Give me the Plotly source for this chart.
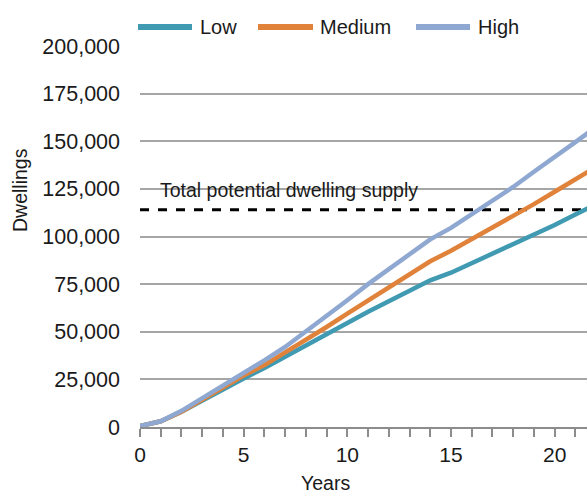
import plotly.graph_objects as go

years = list(range(0, 23))
low = [500, 3000, 8000, 14000, 20000, 25500, 31000, 37000, 42500, 48500, 55000,
       60500, 66000, 71500, 77000, 81000, 86000, 91000, 96000, 100500, 106000, 111500, 117000]
medium = [500, 3000, 8000, 14500, 21000, 27000, 32500, 39000, 45500, 52500, 59500,
          66500, 73500, 80500, 87000, 92500, 98500, 104500, 110500, 117000, 123500, 130000, 136500]
high = [500, 3000, 8500, 15000, 22000, 28500, 35000, 42000, 50000, 58000, 66500,
        75000, 83000, 91000, 98500, 104500, 111500, 119000, 126000, 134000, 141500, 149500, 157500]
supply = 114000
supply_label = "Total potential dwelling supply"
y_ticks = [0, 25000, 50000, 75000, 100000, 125000, 150000, 175000, 200000]
series_names = ["Low", "Medium", "High"]
series_colors = ["#3F9AB2", "#E0823A", "#8FA8D1"]

FONT = "Liberation Sans, Arial, sans-serif"
TXT = "#1a1a1a"

W, H = 587, 494
ML, MT, MB, MR = 140, 46, 67, 0
PW = W - ML - MR
PH = H - MT - MB

def px_x(fx):
    return (fx - ML) / PW

fig = go.Figure()
fig.add_trace(go.Scatter(x=[years[0], years[-1]], y=[supply, supply], mode="lines",
                         line=dict(color="black", width=3, dash="dash"),
                         showlegend=False, hoverinfo="skip"))
for name, vals, col in zip(series_names, [low, medium, high], series_colors):
    fig.add_trace(go.Scatter(x=years, y=vals, mode="lines", name=name, showlegend=False,
                             line=dict(color=col, width=4.5)))

# manual legend (long symbols as in reference)
leg_y = 1 + (MT - 27) / PH
leg_items = [(138, 192, 198), (258, 313, 318), (416, 470, 476)]
for (x0, x1, tx), name, col in zip(leg_items, series_names, series_colors):
    fig.add_shape(type="line", xref="paper", yref="paper", x0=px_x(x0), x1=px_x(x1),
                  y0=leg_y, y1=leg_y, line=dict(color=col, width=6))
    fig.add_annotation(x=px_x(tx), y=leg_y, xref="paper", yref="paper", text=name,
                       showarrow=False, xanchor="left", yanchor="middle",
                       font=dict(size=20, color=TXT, family=FONT))

fig.add_annotation(x=0.85, y=supply, xref="x", yref="y", text=supply_label, showarrow=False,
                   xanchor="left", yanchor="bottom", yshift=7,
                   font=dict(size=19.5, color=TXT, family=FONT))
fig.add_annotation(x=0, y=0.622, xref="paper", yref="paper", text="Dwellings", showarrow=False,
                   textangle=-90, xanchor="center", yanchor="middle", xshift=-120,
                   font=dict(size=19.5, color=TXT, family=FONT))
fig.add_annotation(x=px_x(325), y=0, xref="paper", yref="paper", text="Years", showarrow=False,
                   xanchor="center", yanchor="middle", yshift=-56,
                   font=dict(size=19.5, color=TXT, family=FONT))

fig.update_layout(
    width=W, height=H,
    margin=dict(l=ML, r=MR, t=MT, b=MB),
    plot_bgcolor="white", paper_bgcolor="white",
    font=dict(family=FONT, size=20, color=TXT),
    showlegend=False,
    xaxis=dict(range=[0, 21.56], dtick=5, tick0=0, showgrid=False, zeroline=False,
               showline=True, linecolor="#8c8c8c", linewidth=2,
               ticks="outside", ticklen=8, tickwidth=2, tickcolor="#8c8c8c",
               minor=dict(dtick=1, ticks="outside", ticklen=8, tickwidth=2, tickcolor="#8c8c8c"),
               tickfont=dict(size=21, color=TXT, family=FONT)),
    yaxis=dict(range=[0, 200000], tickvals=y_ticks, tickformat=",d",
               showgrid=True, gridcolor="#a6a6a6", gridwidth=2, zeroline=False,
               showline=False, ticks="", ticklabelstandoff=19,
               tickfont=dict(size=21.5, color=TXT, family=FONT)),
)
fig.write_html("out.html", config={"displayModeBar": False},
               post_script="document.body.style.margin='0';document.documentElement.style.overflow='hidden';")
